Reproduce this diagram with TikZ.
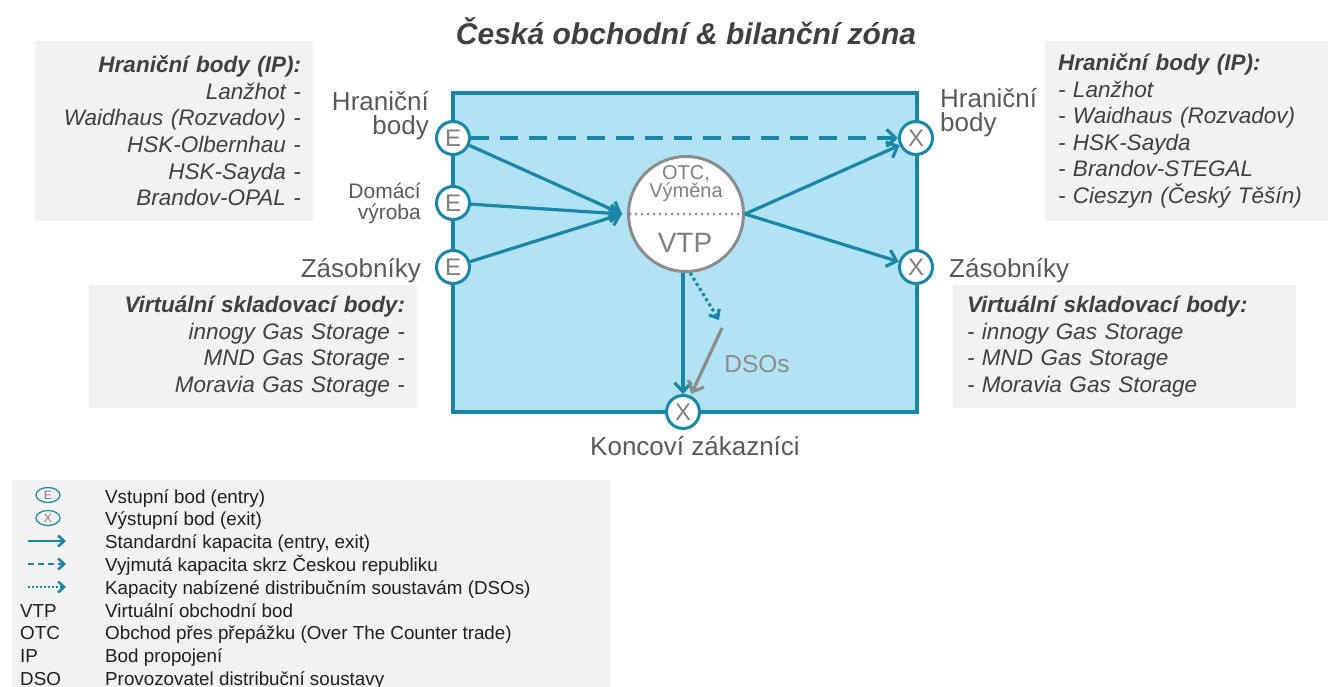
\documentclass[tikz,border=0pt]{standalone}
\usepackage{fontspec}
\setmainfont{Liberation Sans}
\usetikzlibrary{arrows.meta,shapes.geometric}

\definecolor{zoneline}{HTML}{1A86A8}
\definecolor{zonefill}{HTML}{B1E3F5}
\definecolor{boxgray}{HTML}{F2F2F2}
\definecolor{txtdark}{HTML}{404040}
\definecolor{txtmid}{HTML}{595959}
\definecolor{ringgray}{HTML}{8C8C8C}
\definecolor{legtxt}{HTML}{1F1F1F}

\newcommand{\fsz}[2]{\fontsize{#1}{#2}\selectfont}

\begin{document}
\begin{tikzpicture}
[
	x	= 1pt,	% one unit is one pixel of the reference
	y	= -1pt,	% y runs downwards as in the reference
	%
	%
	% ----------- boxes and labels --------------
	infobox/.style =
	{
		fill		= boxgray,
		inner ysep	= 0pt,
		font		= \fsz{22.5}{26.6}\itshape,
		text		= txtdark
	},
	%
	sidelabel/.style =
	{
		font		= \fsz{26}{24},
		text		= txtmid,
		inner sep	= 0pt
	},
	%
	% ----------- zone and points --------------
	zone/.style =
	{
		draw		= zoneline,
		fill		= zonefill,
		line width	= 3.5pt
	},
	%
	entry/.style =
	{
		circle,
		draw		= zoneline,
		fill		= white,
		line width	= 3pt,
		minimum size	= 33pt,
		inner sep	= 0pt,
		text		= gray,
		font		= \fsz{24}{24}
	},
	%
	vtpring/.style =
	{
		circle,
		draw		= ringgray,
		fill		= white,
		line width	= 3pt,
		minimum size	= 115pt
	},
	%
	% ----------- connectors --------------
	flow/.style =
	{
		draw		= zoneline,
		line width	= 3.2pt,
		-{Straight Barb[length=9pt,width=17pt]}
	},
	%
	legflow/.style =
	{
		draw		= zoneline,
		line width	= 2.5pt,
		-{Straight Barb[length=6pt,width=11pt]}
	},
	%
	legentry/.style =
	{
		ellipse,
		draw		= zoneline,
		line width	= 1.2pt,
		minimum width	= 24pt,
		minimum height	= 15pt,
		inner sep	= 0pt,
		text		= gray,
		font		= \fsz{12}{12}
	},
	%
	legtext/.style =
	{
		anchor		= base west,
		inner sep	= 0pt,
		text		= legtxt,
		font		= \fsz{18.8}{18.8}
	}
]

\useasboundingbox (0,0) rectangle (1328,687);

% title
\node [font = \fsz{30}{30}\bfseries\itshape, text = txtdark] (title) at (686,31)
	{Česká obchodní \& bilanční zóna};

% grey boxes with the point names
\node [infobox, minimum height = 180pt, text width = 254pt, inner xsep = 12pt, align = right]
	(lbox1) at (174,131)
	{\textbf{Hraniční body (IP):}\\Lanžhot -\\Waidhaus (Rozvadov) -\\HSK-Olbernhau -\\HSK-Sayda -\\Brandov-OPAL -};
\node [infobox, minimum height = 123pt, text width = 304pt, inner xsep = 12pt, align = right]
	(lbox2) at (253,346.5)
	{\textbf{Virtuální skladovací body:}\\innogy Gas Storage -\\MND Gas Storage -\\Moravia Gas Storage -};
\node [infobox, minimum height = 180pt, text width = 257pt, inner xsep = 13pt, align = left]
	(rbox1) at (1186.5,131)
	{\textbf{Hraniční body (IP):}\\- Lanžhot\\- Waidhaus (Rozvadov)\\- HSK-Sayda\\- Brandov-STEGAL\\- Cieszyn (Český Těšín)};
\node [infobox, minimum height = 123pt, text width = 315pt, inner xsep = 14pt, align = left]
	(rbox2) at (1124.5,346.5)
	{\textbf{Virtuální skladovací body:}\\- innogy Gas Storage\\- MND Gas Storage\\- Moravia Gas Storage};

% the zone
\node [zone, minimum width = 464pt, minimum height = 319pt] (zone) at (685,252.5) {};

% entry and exit points
\foreach \n/\y in {1/138, 2/203, 3/267}
	\node [entry] (e\n) at (453,\y) {E};
\node [entry] (x1) at (916,138) {X};
\node [entry] (x2) at (916,267) {X};
\node [entry] (x3) at (683,412) {X};

% virtual trading point
\node [vtpring] (vtp) at (686,214) {};
\draw [ringgray, line width = 3pt, line cap = round, dash pattern = on 0pt off 6pt,
	shorten < = 3pt, shorten > = 6pt] (vtp.west) -- (vtp.east);
\node [font = \fsz{20}{20}, text = gray, anchor = base] (otc) at (686,180) {OTC,};
\node [font = \fsz{20}{20}, text = gray, anchor = base] (vymena) at (686,198) {Výměna};
\node [font = \fsz{28}{28}, text = gray, anchor = base] (vtplbl) at (685,252) {VTP};

% labels round the zone
\node [sidelabel, anchor = east, align = right] (lhb) at (429,116) {Hraniční\\body};
\node [sidelabel, anchor = west, align = left] (rhb) at (940,113) {Hraniční\\body};
\node [sidelabel, anchor = east, align = right, font = \fsz{21}{21}] (ldom) at (421,203) {Domácí\\výroba};
\node [sidelabel, anchor = base east] (lzas) at (421,277) {Zásobníky};
\node [sidelabel, anchor = base west] (rzas) at (949,277) {Zásobníky};
\node [sidelabel, anchor = base] (konc) at (695,455) {Koncoví zákazníci};
\node [sidelabel, anchor = base, font = \fsz{24.5}{24.5}, text = ringgray] (dsos) at (757,372) {DSOs};

% connectors
\coordinate (vtpin)		at ([xshift=-5pt]vtp.west);
\coordinate (dsotip)	at (719,320);
\coordinate (dsostart)	at (722,328);

\foreach \n in {1,2,3}
	\draw [flow] (e\n) -- (vtpin);
\draw [flow] (vtp.east) -- (x1);
\draw [flow] (vtp.east) -- (x2);
\draw [flow, dash pattern = on 18pt off 11pt] (e1) -- (x1);
\draw [flow] (x3 |- vtp.south) -- (x3);
\draw [flow, dash pattern = on 3pt off 3pt, -{Straight Barb[length=7pt,width=12pt]}] (vtp.-86) -- (dsotip);
\draw [flow, draw = ringgray, shorten > = 2pt] (dsostart) -- (x3);

% legend
\fill [boxgray] (12,480) rectangle (610,687);
\node [legentry] (legE) at (48,495) {E};
\node [legentry] (legX) at (48,518) {X};
\coordinate (lsa) at (28,541);	\coordinate (lsb) at (66,541);
\coordinate (lda) at (28,564);	\coordinate (ldb) at (66,564);
\coordinate (lta) at (28,587);	\coordinate (ltb) at (66,587);
\draw [legflow] (lsa) -- (lsb);
\draw [legflow, dash pattern = on 6pt off 4pt] (lda) -- (ldb);
\draw [legflow, dash pattern = on 2pt off 2pt] (lta) -- (ltb);

\foreach \txt [count = \i] in
{
	{Vstupní bod (entry)},
	{Výstupní bod (exit)},
	{Standardní kapacita (entry, exit)},
	{Vyjmutá kapacita skrz Českou republiku},
	{Kapacity nabízené distribučním soustavám (DSOs)},
	{Virtuální obchodní bod},
	{Obchod přes přepážku (Over The Counter trade)},
	{Bod propojení},
	{Provozovatel distribuční soustavy}
}
	\node [legtext] (leg\i) at (105,480.2+22.8*\i) {\txt};

\foreach \abbr [count = \i from 6] in {VTP, OTC, IP, DSO}
	\node [legtext] (abbr\i) at (20,480.2+22.8*\i) {\abbr};

\end{tikzpicture}
\end{document}
